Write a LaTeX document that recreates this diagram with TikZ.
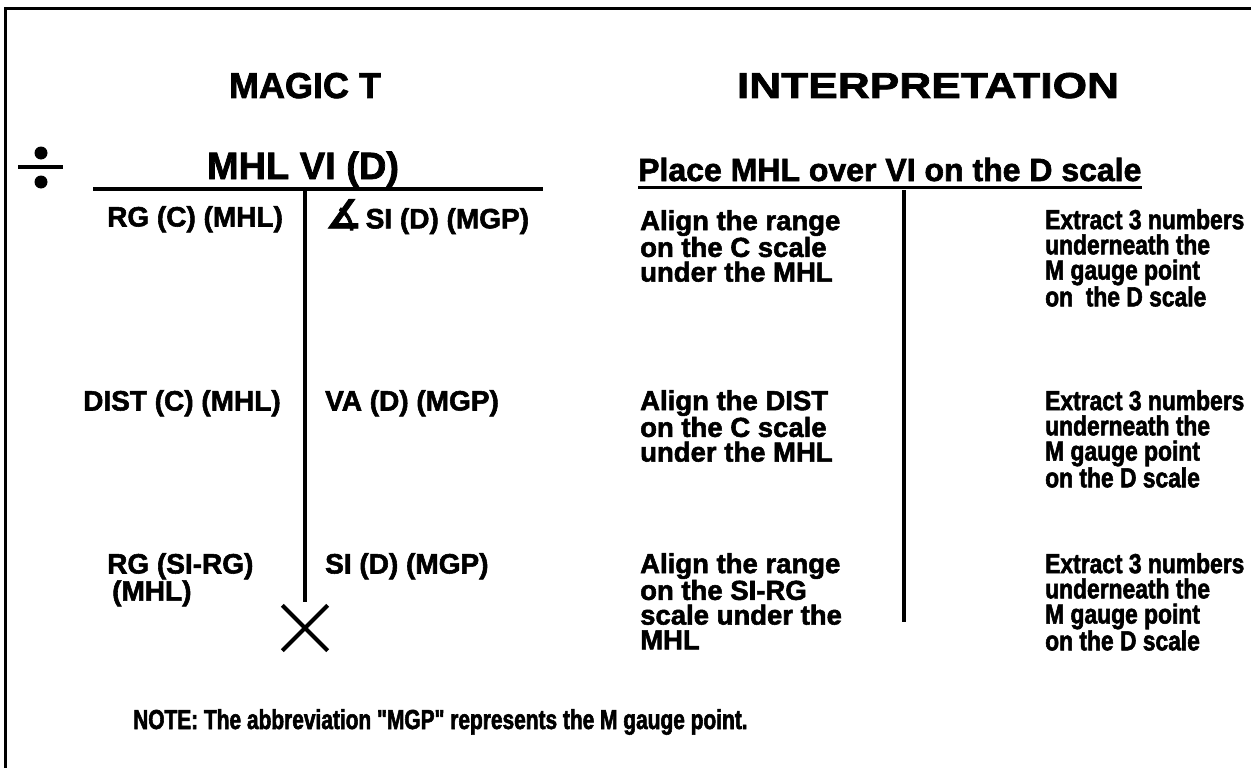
\documentclass[tikz,border=0pt]{standalone}
\usepackage{fontspec}
\setmainfont{Liberation Sans}[BoldFeatures={FakeBold=2}]
\newfontfamily\narrowfont{Liberation Sans}[BoldFeatures={FakeBold=2,FakeStretch=0.83}]
\newfontfamily\notefont{Liberation Sans}[BoldFeatures={FakeBold=2,FakeStretch=0.76}]
\newfontfamily\widefont{Liberation Sans}[BoldFeatures={FakeBold=2,FakeStretch=1.23}]
\newfontfamily\symfont{DejaVu Sans}[BoldFeatures={FakeBold=2}]
\begin{document}
\begin{tikzpicture}[x=1pt,y=-1pt,
  ttxt/.style={font=\bfseries\fontsize{28}{25}\selectfont, inner sep=0pt, align=left, anchor=north west},
  itxt/.style={font=\bfseries\fontsize{27.5}{24.7}\selectfont, inner sep=0pt, align=left, anchor=north west},
  etxt/.style={font=\narrowfont\bfseries\fontsize{27.5}{25.2}\selectfont, inner sep=0pt, align=left, anchor=north west},
  ttl/.style={font=\bfseries\fontsize{36}{40}\selectfont, inner sep=0pt, anchor=base},
  sub/.style={font=\bfseries\fontsize{32}{34}\selectfont, inner sep=0pt, anchor=base west},
  note/.style={font=\notefont\bfseries\fontsize{27.5}{30}\selectfont, inner sep=0pt, anchor=base west},
  rule/.style={line width=4pt},
  frame/.style={line width=3pt}]
\useasboundingbox (0,0) rectangle (1251,768);
% frame
\draw[frame] (1251,9) -- (5,9) -- (5,768);
% titles
\node[ttl] (magic) at (305,98) {MAGIC T};
\node[ttl, font=\widefont\bfseries\fontsize{36}{40}\selectfont] (interp) at (928,98) {INTERPRETATION};
\node[ttl, font=\bfseries\fontsize{38}{40}\selectfont] (mhl) at (303,179) {MHL VI (D)};
% division sign
\fill (41,153) circle (6.5);
\draw[rule] (18,167) -- (63,167);
\fill (41,182) circle (6.5);
% magic T
\coordinate (hl) at (93,189);
\coordinate (hr) at (543,189);
\coordinate (vt) at (305,189);
\coordinate (vb) at (305,602);
\draw[rule] (hl) -- (hr);
\draw[rule] (vt) -- (vb);
\node[minimum size=45pt, inner sep=0pt] (xmark) at (305,628) {};
\draw[rule] (xmark.north west) -- (xmark.south east);
\draw[rule] (xmark.north east) -- (xmark.south west);
% left column
\node[ttxt] (l1) at (107,206) {RG (C) (MHL)};
\node[ttxt] (l2) at (83,390) {DIST (C) (MHL)};
\node[ttxt] (l3) at (107,553) {RG (SI-RG)\\\hspace*{5pt}(MHL)};
% right column
\node[ttxt] (r1) at (325,199) {{\symfont\bfseries\fontsize{40}{40}\selectfont ∡}\,SI (D) (MGP)};
\node[ttxt] (r2) at (325,390) {VA (D) (MGP)};
\node[ttxt] (r3) at (325,553) {SI (D) (MGP)};
% interpretation
\node[sub] (place) at (638,181) {Place MHL over VI on the D scale};
\draw[frame] ([yshift=-6pt]place.base west) -- ([yshift=-6pt]place.base east);
\coordinate (dt) at (904,190);
\coordinate (db) at (904,622);
\draw[rule] (dt) -- (db);
\node[itxt] (a1) at (640,210) {Align the range\\on the C scale\\under the MHL};
\node[itxt] (a2) at (640,390) {Align the DIST\\on the C scale\\under the MHL};
\node[itxt] (a3) at (640,553) {Align the range\\on the SI-RG\\scale under the\\MHL};
\node[etxt] (e1) at (1045,209) {Extract 3 numbers\\underneath the\\M gauge point\\on\ \ the D scale};
\node[etxt] (e2) at (1045,390) {Extract 3 numbers\\underneath the\\M gauge point\\on the D scale};
\node[etxt] (e3) at (1045,553) {Extract 3 numbers\\underneath the\\M gauge point\\on the D scale};
% note
\node[note] (nt) at (133,729) {NOTE: The abbreviation "MGP" represents the M gauge point.};
\end{tikzpicture}
\end{document}
